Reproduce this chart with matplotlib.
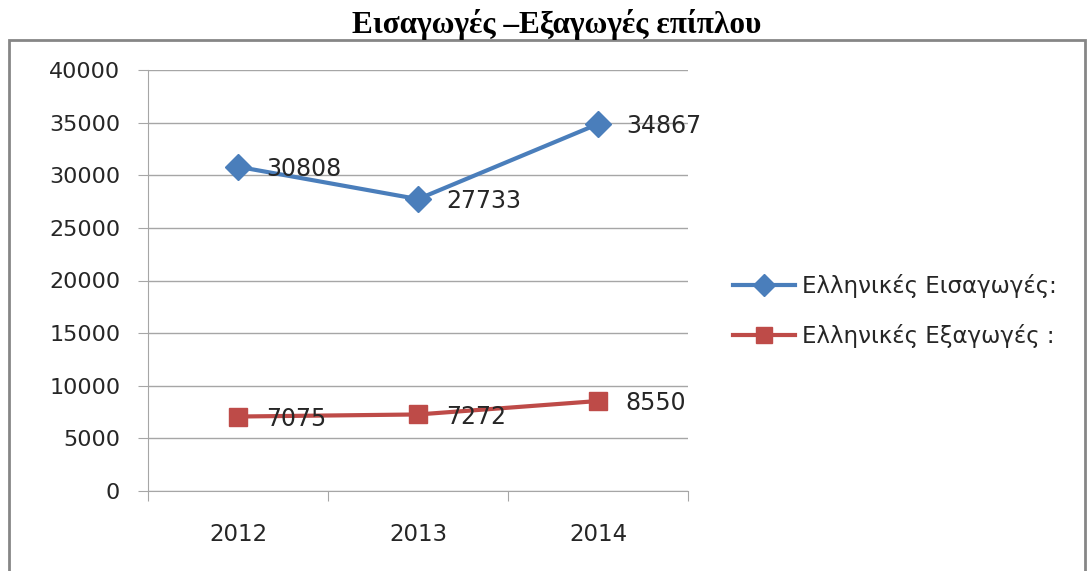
import matplotlib.pyplot as plt
from matplotlib.patches import Rectangle

years = ['2012', '2013', '2014']
imports = [30808, 27733, 34867]
exports = [7075, 7272, 8550]
series_names = ['Ελληνικές Εισαγωγές:', 'Ελληνικές Εξαγωγές :']
yticks = [0, 5000, 10000, 15000, 20000, 25000, 30000, 35000, 40000]

blue = '#4A7EBB'
red = '#BE4B48'
grid_col = '#A6A6A6'
txt_col = '#262626'

plt.rcParams['font.family'] = ['DejaVu Sans']

fig = plt.figure(figsize=(10.89, 5.71), dpi=100)
# outer chart border
fig.patches.append(Rectangle((9 / 1089, -0.05), 1076 / 1089, 1 - 40 / 571 + 0.05,
                             transform=fig.transFigure, fill=False,
                             edgecolor='#868686', linewidth=2))
fig.text(557 / 1089, 1 - 24 / 571, 'Εισαγωγές –Εξαγωγές επίπλου',
         ha='center', va='center', fontsize=22.5, fontweight='bold',
         family='Liberation Serif')

ax = fig.add_axes([148 / 1089, 1 - 491 / 571, 540 / 1089, 421 / 571])
x = range(len(years))
ax.plot(x, imports, color=blue, linewidth=3, marker='D', markersize=13,
        label=series_names[0])
ax.plot(x, exports, color=red, linewidth=3, marker='s', markersize=13,
        label=series_names[1])

for i, v in enumerate(imports):
    ax.annotate(str(v), (i, v), xytext=(20, -1.5), textcoords='offset points',
                fontsize=17, va='center', ha='left', color=txt_col)
for i, v in enumerate(exports):
    ax.annotate(str(v), (i, v), xytext=(20, -1.5), textcoords='offset points',
                fontsize=17, va='center', ha='left', color=txt_col)

ax.set_xlim(-0.5, 2.5)
ax.set_ylim(0, 40000)
ax.set_yticks(yticks)
ax.set_yticklabels([str(t) for t in yticks], fontsize=16, color=txt_col)
ax.set_xticks([-0.5, 0.5, 1.5, 2.5])
ax.set_xticklabels([])
ax.set_xticks(list(x), minor=True)
ax.set_xticklabels(years, minor=True, fontsize=16.5, color=txt_col)
ax.tick_params(axis='x', which='minor', length=0, pad=23)
ax.tick_params(axis='x', which='major', length=7, color=grid_col)
ax.tick_params(axis='y', length=7, color=grid_col, pad=13)
ax.grid(axis='y', color=grid_col, linewidth=1)
ax.set_axisbelow(True)
for s in ['top', 'right']:
    ax.spines[s].set_visible(False)
for s in ['left', 'bottom']:
    ax.spines[s].set_color(grid_col)

leg = fig.legend(loc='center left', bbox_to_anchor=(733 / 1089, 1 - 311 / 571),
                 frameon=False, fontsize=16.5, handlelength=2.7, labelspacing=1.1,
                 handletextpad=0.3, borderpad=0, borderaxespad=0)
for t in leg.get_texts():
    t.set_color(txt_col)
for h in leg.legend_handles:
    h.set_markersize(11)

fig.savefig('out.png', dpi=100)
